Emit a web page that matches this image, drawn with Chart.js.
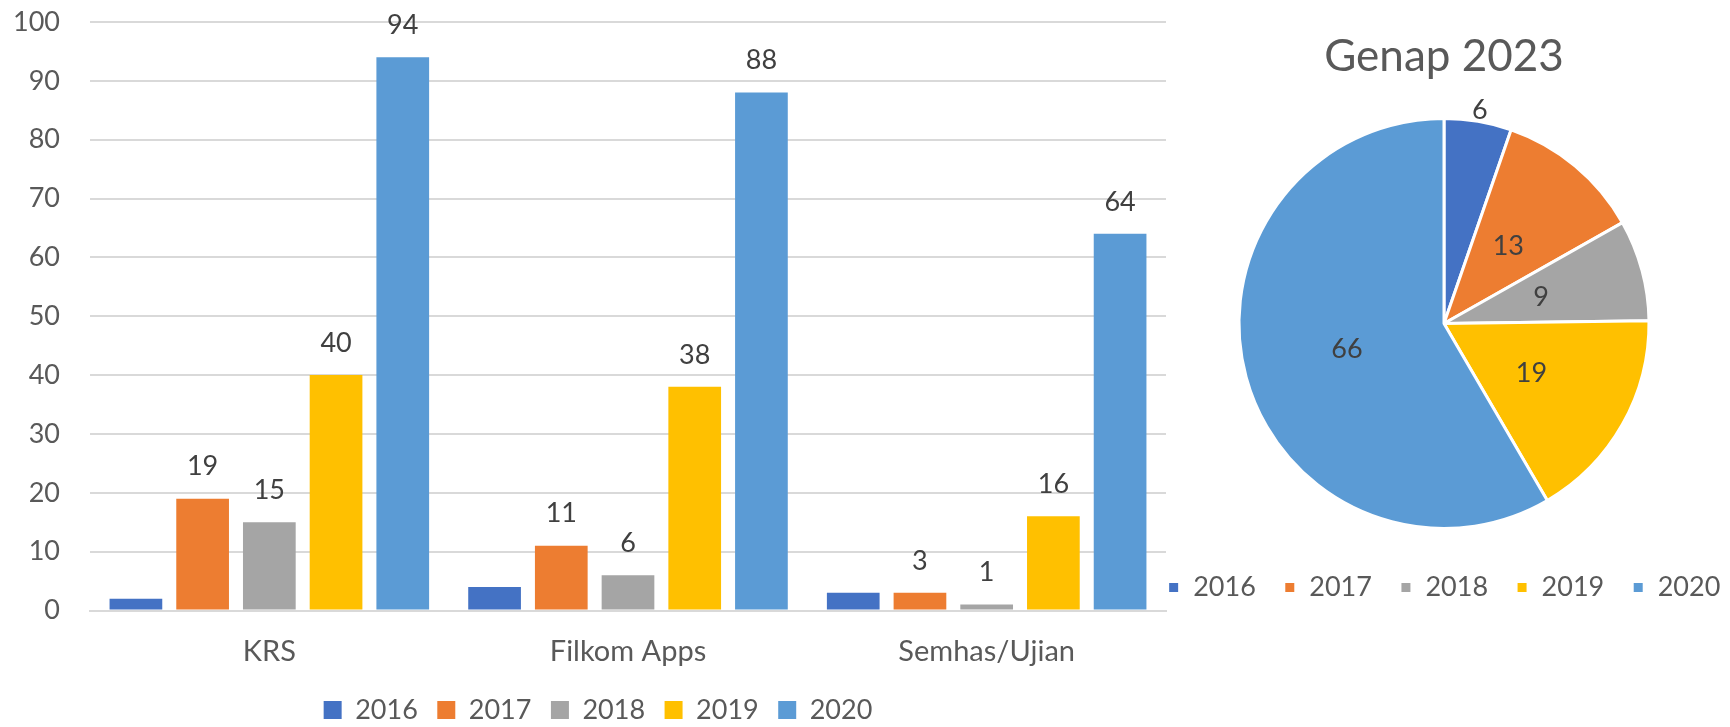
<!DOCTYPE html>
<html lang="id">

<head>
    <title>Pengguna per Angkatan</title>
    <meta charset="utf-8">
    <script src="https://cdn.jsdelivr.net/npm/chart.js@4.4.0/dist/chart.umd.min.js"></script>
    <style>
        body { margin: 0; background: #fff; overflow: hidden; }
        #bar-box { position: absolute; left: 0; top: 0; width: 1196px; height: 727px; }
        #pie-box { position: absolute; left: 1127px; top: 0; width: 640px; height: 727px; }
    </style>
</head>

<body>
    <div id="bar-box"><canvas id="bar-chart" width="1196" height="727"></canvas></div>
    <div id="pie-box"><canvas id="pie-chart" width="640" height="727"></canvas></div>

    <script>
        // data
        const categories = ["KRS", "Filkom Apps", "Semhas/Ujian"];
        const years = ["2016", "2017", "2018", "2019", "2020"];
        const colors = ["#4472C4", "#ED7D31", "#A5A5A5", "#FFC000", "#5B9BD5"];
        const v2016 = [2, 4, 3];
        const v2017 = [19, 11, 3];
        const v2018 = [15, 6, 1];
        const v2019 = [40, 38, 16];
        const v2020 = [94, 88, 64];
        const yMin = 0, yMax = 100, yStep = 10;

        const pieTitle = "Genap 2023";
        const pieValues = [6, 13, 9, 19, 66];

        const textColor = "#595959";
        const fontName = "Lato, 'Open Sans', sans-serif";

        // value labels on bars (2016 has none in the original)
        const barLabels = {
            id: 'barLabels',
            afterLayout(chart) {
                // excel centres the legend a bit to the right of the canvas middle
                chart.legend.left += 15;
                chart.legend.right += 15;
            },
            afterDatasetsDraw(chart) {
                let ctx = chart.ctx;
                ctx.save();
                ctx.font = "27px " + fontName;
                ctx.fillStyle = "#404040";
                ctx.textAlign = "center";
                ctx.textBaseline = "middle";
                chart.data.datasets.forEach((ds, i) => {
                    if (i == 0) return;
                    chart.getDatasetMeta(i).data.forEach((bar, j) => {
                        ctx.fillText(ds.data[j], bar.x, bar.y - 32);
                    });
                });
                ctx.restore();
            }
        };

        // value labels on slices, small slice goes outside
        const pieLabels = {
            id: 'pieLabels',
            afterDatasetsDraw(chart) {
                let ctx = chart.ctx;
                let ds = chart.data.datasets[0];
                let total = ds.data.reduce((a, b) => a + b, 0);
                ctx.save();
                ctx.font = "27px " + fontName;
                ctx.fillStyle = "#404040";
                ctx.textAlign = "center";
                ctx.textBaseline = "middle";
                chart.getDatasetMeta(0).data.forEach((arc, j) => {
                    let mid = (arc.startAngle + arc.endAngle) / 2;
                    let r = ds.data[j] / total < 0.07 ? arc.outerRadius + 11 : arc.outerRadius * 0.49;
                    ctx.fillText(ds.data[j], arc.x + Math.cos(mid) * r, arc.y + Math.sin(mid) * r);
                });
                ctx.restore();
            }
        };

        let series = [v2016, v2017, v2018, v2019, v2020];

        new Chart(document.getElementById("bar-chart"), {
            type: 'bar',
            data: {
                labels: categories,
                datasets: series.map((s, i) => ({
                    label: years[i],
                    data: s,
                    backgroundColor: colors[i],
                    barPercentage: 0.79,
                    categoryPercentage: 0.93
                }))
            },
            options: {
                responsive: false,
                animation: false,
                layout: { padding: { left: 0, right: 30, top: 22, bottom: 0 } },
                scales: {
                    y: {
                        min: yMin,
                        max: yMax,
                        ticks: { stepSize: yStep, padding: 30, color: textColor, font: { family: fontName, size: 27 } },
                        grid: { color: "#d9d9d9", lineWidth: 2, drawTicks: false },
                        border: { display: false },
                        afterFit(scale) {
                            scale.width = 90;
                            scale.paddingTop = 0;
                            scale.paddingBottom = 0;
                        }
                    },
                    x: {
                        ticks: { padding: 24, color: textColor, font: { family: fontName, size: 29 } },
                        grid: { display: false, drawTicks: false },
                        border: { color: "#d9d9d9", width: 2 },
                        afterFit(scale) { scale.height = 66.5; }
                    }
                },
                plugins: {
                    legend: {
                        position: 'bottom',
                        maxHeight: 50,
                        labels: { boxWidth: 18, boxHeight: 18, padding: 19.5, color: textColor, font: { family: fontName, size: 27 } }
                    },
                    tooltip: { enabled: false }
                }
            },
            plugins: [barLabels]
        });

        new Chart(document.getElementById("pie-chart"), {
            type: 'pie',
            data: {
                labels: years,
                datasets: [{
                    data: pieValues,
                    backgroundColor: colors,
                    borderColor: "#ffffff",
                    borderWidth: 3,
                    radius: 205
                }]
            },
            options: {
                responsive: false,
                animation: false,
                layout: { padding: { left: 0, right: 6, top: 0, bottom: 116 } },
                plugins: {
                    title: {
                        display: true,
                        text: pieTitle,
                        color: textColor,
                        font: { family: fontName, size: 44, weight: 'normal' },
                        padding: { top: 30.6, bottom: 17.6 }
                    },
                    legend: {
                        position: 'bottom',
                        labels: { boxWidth: 12, boxHeight: 12, padding: 28, color: textColor, font: { family: fontName, size: 27 } }
                    },
                    tooltip: { enabled: false }
                }
            },
            plugins: [pieLabels]
        });
    </script>
</body>

</html>
